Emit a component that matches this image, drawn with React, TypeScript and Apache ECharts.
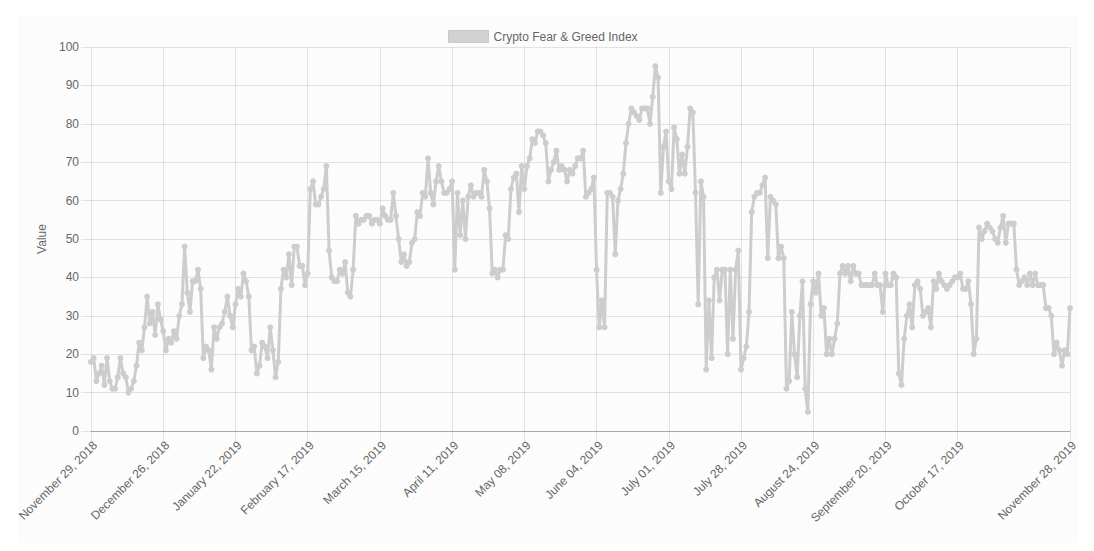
import React, { useEffect, useRef } from "react";
import * as echarts from "echarts";

const MONTHS = [
  "January", "February", "March", "April", "May", "June",
  "July", "August", "September", "October", "November", "December",
];

// Daily dates (two duplicated days in the source feed)
const START_DATE = [2018, 10, 29];
const END_DATE = [2019, 10, 28];
const DUPLICATED_DAYS = ["February 01, 2019", "March 01, 2019"];

function buildDates(): string[] {
  const out: string[] = [];
  const d = new Date(Date.UTC(START_DATE[0], START_DATE[1], START_DATE[2]));
  const end = Date.UTC(END_DATE[0], END_DATE[1], END_DATE[2]);
  while (d.getTime() <= end) {
    const dd = String(d.getUTCDate()).padStart(2, "0");
    const s = `${MONTHS[d.getUTCMonth()]} ${dd}, ${d.getUTCFullYear()}`;
    out.push(s);
    if (DUPLICATED_DAYS.includes(s)) out.push(s);
    d.setUTCDate(d.getUTCDate() + 1);
  }
  return out;
}

// Values, in chronological segments
const SEG_DEC = [18, 19, 13, 15, 17, 12, 19, 13, 11, 11, 14, 19, 15, 14, 10, 11, 13, 17, 23, 21, 27, 35, 28, 31, 25, 33, 29, 26, 21, 24, 23, 26, 24, 30, 33, 48];
const SEG_JAN = [36, 31, 39, 39, 42, 37, 19, 22, 21, 16, 27, 24, 27, 28, 31, 35, 30, 27, 33, 37, 35, 41, 39, 35, 21, 22, 15, 17, 23, 22, 19, 27, 21, 14, 18, 37];
const SEG_FEB = [42, 40, 46, 38, 48, 48, 43, 43, 38, 41, 63, 65, 59, 59, 61, 63, 69, 47, 40, 39, 39, 42, 41, 44, 36, 35, 42, 56];
const SEG_MAR = [54, 55, 55, 56, 56, 54, 55, 55, 54, 58, 56, 55, 55, 62, 56, 50, 44, 46, 43, 44, 49, 50, 57, 56, 62, 61, 71, 62, 59, 65, 69, 65, 62];
const SEG_APR = [62, 63, 65, 42, 62, 51, 60, 50, 61, 64, 61, 62, 62, 61, 68, 65, 58, 41, 42, 40, 42, 42, 51, 50, 63, 66, 67, 57, 69, 63, 69, 71, 76, 75];
const SEG_MAY = [78, 78, 77, 75, 65, 68, 70, 73, 68, 69, 68, 65, 68, 67, 69, 71, 71, 73, 61, 62, 63, 66, 42, 27, 34, 27, 62, 62, 61, 46, 60, 63, 67];
const SEG_JUN = [75, 80, 84, 83, 82, 81, 84, 84, 84, 80, 87, 95, 92, 62, 74, 78, 65, 63, 79, 76, 67, 72, 67, 74, 84, 83, 62, 33, 65, 61, 16, 34, 19, 40];
const SEG_JUL = [42, 34, 42, 42, 20, 42, 24, 42, 47, 16, 19, 22, 31, 57, 61, 62, 62, 64, 66, 45, 61, 60, 59, 45, 48, 45, 11, 13, 31, 20, 14, 30, 39, 11, 5, 33];
const SEG_AUG = [39, 36, 41, 30, 32, 20, 24, 20, 24, 28, 41, 43, 41, 43, 39, 43, 41, 41, 38, 38, 38, 38, 38, 41, 38, 38, 31, 41, 38, 38, 41, 40];
const SEG_SEP = [15, 12, 24, 30, 33, 27, 38, 39, 37, 30, 31, 32, 27, 39, 37, 41, 39, 38, 37, 38, 39, 40, 40, 41, 37, 37, 39, 33, 20, 24];
const SEG_OCT = [53, 50, 52, 54, 53, 52, 50, 49, 53, 56, 49, 54, 54, 54, 42, 38, 39, 40, 38, 41, 38, 41, 38, 38, 38, 32, 32, 30, 20, 23, 21, 17, 21, 20, 32];

const VALUES = [
  ...SEG_DEC, ...SEG_JAN, ...SEG_FEB, ...SEG_MAR, ...SEG_APR, ...SEG_MAY,
  ...SEG_JUN, ...SEG_JUL, ...SEG_AUG, ...SEG_SEP, ...SEG_OCT,
];

const SERIES_NAME = "Crypto Fear & Greed Index";
const Y_TICKS = { min: 0, max: 100, interval: 10 };
const LABEL_STEP = 27;

const FONT = "'Helvetica Neue', Helvetica, Arial, 'Liberation Sans', sans-serif";
const GRAY = "#cdcdcd";
const TEXT = "#666666";
const GRID = "rgba(0,0,0,0.1)";

export default function App() {
  const ref = useRef<HTMLDivElement>(null);

  useEffect(() => {
    if (!ref.current) return;
    const chart = echarts.init(ref.current, undefined, { renderer: "svg" });
    const dates = buildDates();
    const n = dates.length;
    const showIdx = (i: number) => (i % LABEL_STEP === 0 && i + LABEL_STEP < n) || i === n - 1;

    chart.setOption({
      animation: false,
      backgroundColor: "#ffffff",
      textStyle: { fontFamily: FONT },
      graphic: [
        {
          type: "rect",
          silent: true,
          z: -100,
          shape: { x: 18, y: 16, width: 1060, height: 527 },
          style: { fill: "#fcfcfc" },
        },
      ],
      legend: {
        left: 443,
        top: 25,
        itemWidth: 40,
        itemHeight: 12,
        textStyle: { color: TEXT, fontSize: 12, fontFamily: FONT },
        data: [{ name: SERIES_NAME, icon: "rect", itemStyle: { color: "#d2d2d2", borderColor: "#c8c8c8", borderWidth: 1 } }],
      },
      grid: { left: 91, right: 24, top: 47, bottom: 120, containLabel: false, outerBoundsMode: "none" },
      xAxis: {
        type: "category",
        data: dates,
        boundaryGap: false,
        axisLine: { show: true, lineStyle: { color: "rgba(0,0,0,0.25)", width: 1 } },
        axisTick: { show: true, length: 10, interval: (i: number) => showIdx(i), lineStyle: { color: GRID } },
        splitLine: { show: true, interval: (i: number) => showIdx(i), lineStyle: { color: GRID, width: 1 } },
        axisLabel: {
          interval: (i: number) => showIdx(i),
          rotate: 45,
          margin: 8,
          verticalAlign: "top",
          color: TEXT,
          fontSize: 12,
          fontFamily: FONT,
        },
      },
      yAxis: {
        type: "value",
        min: Y_TICKS.min,
        max: Y_TICKS.max,
        interval: Y_TICKS.interval,
        name: "Value",
        nameLocation: "middle",
        nameGap: 43,
        nameTextStyle: { color: TEXT, fontSize: 12, fontFamily: FONT },
        axisLine: { show: false },
        axisTick: { show: true, length: 10, lineStyle: { color: GRID } },
        splitLine: { show: true, lineStyle: { color: GRID, width: 1 } },
        axisLabel: { color: TEXT, fontSize: 12, margin: 12, fontFamily: FONT },
      },
      series: [
        {
          name: SERIES_NAME,
          type: "line",
          data: VALUES,
          smooth: false,
          showSymbol: true,
          showAllSymbol: true,
          symbol: "circle",
          symbolSize: 6,
          itemStyle: { color: GRAY },
          lineStyle: { color: GRAY, width: 3 },
          emphasis: { disabled: true },
        },
      ],
    });

    return () => chart.dispose();
  }, []);

  return (
    <div
      ref={ref}
      style={{ position: "absolute", left: 0, top: 0, width: 1094, height: 551 }}
    />
  );
}
